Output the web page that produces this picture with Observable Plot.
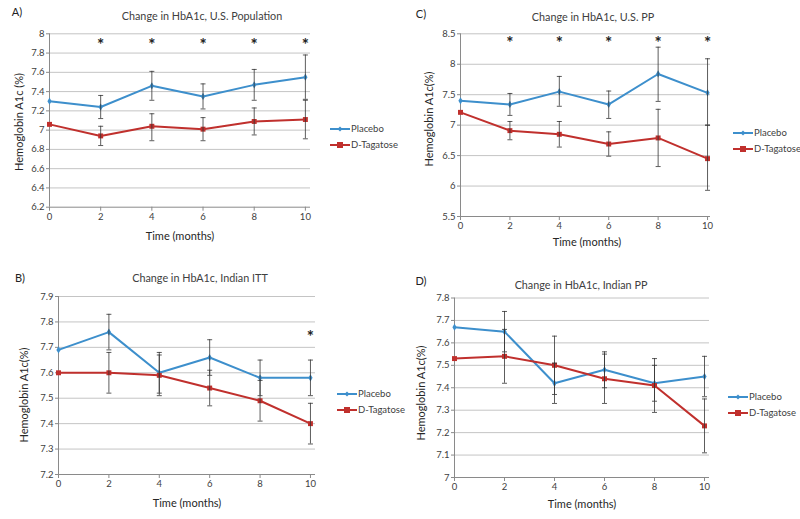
<!DOCTYPE html>
<html><head><meta charset="utf-8">
<script src="https://cdn.jsdelivr.net/npm/d3@7"></script>
<script src="https://cdn.jsdelivr.net/npm/@observablehq/plot@0.6"></script>
<style>
body{margin:0;background:#fff;font-family:Lato,"Open Sans",sans-serif;}
#root{position:relative;width:800px;height:519px;overflow:hidden;background:#fff;}
.panel{position:absolute;width:400px;height:260px;}
.panel svg{position:absolute;left:0;top:0;}
.txt{position:absolute;white-space:nowrap;transform:translate(-50%,-50%);line-height:1;}
.letter{font-size:11px;color:#222;}
.title{font-size:10.8px;color:#404040;}
.ylab{font-size:11px;color:#262626;transform:translate(-50%,-50%) rotate(-90deg);}
.xlab{font-size:11px;color:#262626;}
.leg{position:absolute;font-size:9.5px;color:#404040;line-height:1;white-space:nowrap;width:80px;}
.leg div{display:flex;align-items:center;height:16px;white-space:nowrap;}
.leg svg{position:static;margin-right:1px;flex:none;}
</style></head>
<body><div id="root"></div>
<script>
const months = [0, 2, 4, 6, 8, 10];
const seriesNames = ["Placebo", "D-Tagatose"];
const seriesColors = ["#3d8fcc", "#c0302d"];

// Panel A: U.S. Population
const aTitle = "Change in HbA1c, U.S. Population";
const aYLabel = "Hemoglobin A1c (%)";
const aYTicks = [6.2, 6.4, 6.6, 6.8, 7, 7.2, 7.4, 7.6, 7.8, 8];
const aPlacebo = [7.30, 7.24, 7.46, 7.35, 7.47, 7.55];
const aPlaceboLo = [null, 7.12, 7.31, 7.22, 7.31, 7.32];
const aPlaceboHi = [null, 7.36, 7.61, 7.48, 7.63, 7.78];
const aTag = [7.06, 6.94, 7.04, 7.01, 7.09, 7.11];
const aTagLo = [null, 6.84, 6.89, 6.89, 6.95, 6.91];
const aTagHi = [null, 7.04, 7.17, 7.13, 7.23, 7.31];
const aStars = [2, 4, 6, 8, 10];
const aStarLevel = 7.93;

// Panel C: U.S. PP
const cTitle = "Change in HbA1c, U.S. PP";
const cYLabel = "Hemoglobin A1c(%)";
const cYTicks = [5.5, 6, 6.5, 7, 7.5, 8, 8.5];
const cPlacebo = [7.40, 7.34, 7.55, 7.34, 7.84, 7.53];
const cPlaceboLo = [null, 7.16, 7.31, 7.11, 7.39, 7.00];
const cPlaceboHi = [null, 7.52, 7.80, 7.56, 8.28, 8.09];
const cTag = [7.21, 6.91, 6.85, 6.69, 6.79, 6.45];
const cTagLo = [null, 6.76, 6.64, 6.49, 6.32, 5.93];
const cTagHi = [null, 7.06, 7.06, 6.89, 7.26, 7.00];
const cStars = [2, 4, 6, 8, 10];
const cStarLevel = 8.42;

// Panel B: Indian ITT
const bTitle = "Change in HbA1c, Indian ITT";
const bYLabel = "Hemoglobin A1c(%)";
const bYTicks = [7.2, 7.3, 7.4, 7.5, 7.6, 7.7, 7.8, 7.9];
const bPlacebo = [7.69, 7.76, 7.60, 7.66, 7.58, 7.58];
const bPlaceboLo = [null, 7.69, 7.51, 7.59, 7.51, 7.51];
const bPlaceboHi = [null, 7.83, 7.67, 7.73, 7.65, 7.65];
const bTag = [7.60, 7.60, 7.59, 7.54, 7.49, 7.40];
const bTagLo = [null, 7.52, 7.52, 7.47, 7.41, 7.32];
const bTagHi = [null, 7.68, 7.68, 7.61, 7.57, 7.48];
const bStars = [10];
const bStarLevel = 7.76;

// Panel D: Indian PP
const dTitle = "Change in HbA1c, Indian PP";
const dYLabel = "Hemoglobin A1c(%)";
const dYTicks = [7, 7.1, 7.2, 7.3, 7.4, 7.5, 7.6, 7.7, 7.8];
const dPlacebo = [7.67, 7.65, 7.42, 7.48, 7.42, 7.45];
const dPlaceboLo = [null, 7.56, 7.33, 7.40, 7.34, 7.36];
const dPlaceboHi = [null, 7.74, 7.51, 7.56, 7.50, 7.54];
const dTag = [7.53, 7.54, 7.50, 7.44, 7.41, 7.23];
const dTagLo = [null, 7.42, 7.37, 7.33, 7.29, 7.11];
const dTagHi = [null, 7.66, 7.63, 7.55, 7.53, 7.35];
const dStars = [];
const dStarLevel = null;

const xLabel = "Time (months)";

const panels = [
  {letter:"A)", title:aTitle, yLabel:aYLabel, yTicks:aYTicks, placebo:aPlacebo, placeboLo:aPlaceboLo, placeboHi:aPlaceboHi,
   tag:aTag, tagLo:aTagLo, tagHi:aTagHi, stars:aStars, starLevel:aStarLevel,
   left:0, top:0, ml:49, mr:90, mt:33.3, mb:53.3, xMax:10.2,
   letterPos:[17,11], titlePos:[202,16], yLabPos:[18,122], xLabPos:[180,235], legPos:[330,121]},
  {letter:"C)", title:cTitle, yLabel:cYLabel, yTicks:cYTicks, placebo:cPlacebo, placeboLo:cPlaceboLo, placeboHi:cPlaceboHi,
   tag:cTag, tagLo:cTagLo, tagHi:cTagHi, stars:cStars, starLevel:cStarLevel,
   left:400, top:0, ml:60, mr:90, mt:33.3, mb:44, xMax:10.12,
   letterPos:[21,13], titlePos:[193,17], yLabPos:[28,119], xLabPos:[187,241], legPos:[333,125]},
  {letter:"B)", title:bTitle, yLabel:bYLabel, yTicks:bYTicks, placebo:bPlacebo, placeboLo:bPlaceboLo, placeboHi:bPlaceboHi,
   tag:bTag, tagLo:bTagLo, tagHi:bTagHi, stars:bStars, starLevel:bStarLevel,
   left:0, top:260, ml:58, mr:85, mt:36, mb:46, xMax:10.2,
   letterPos:[20,17], titlePos:[200,18], yLabPos:[23,135], xLabPos:[187,242], legPos:[337,126]},
  {letter:"D)", title:dTitle, yLabel:dYLabel, yTicks:dYTicks, placebo:dPlacebo, placeboLo:dPlaceboLo, placeboHi:dPlaceboHi,
   tag:dTag, tagLo:dTagLo, tagHi:dTagHi, stars:dStars, starLevel:dStarLevel,
   left:400, top:260, ml:54, mr:91, mt:37.5, mb:43, xMax:10.2,
   letterPos:[21,20], titlePos:[181,25], yLabPos:[20,133], xLabPos:[182,243], legPos:[328,129]}
];

const hline = {draw(ctx, size){ const r = Math.sqrt(size / Math.PI); ctx.moveTo(-r, 0); ctx.lineTo(r, 0); }};
const fmt = d => d3.format("~g")(d);

function build(p){
  const rows = [];
  const errs = [];
  months.forEach((m, i) => {
    rows.push({series:"Placebo", month:m, v:p.placebo[i]});
    rows.push({series:"D-Tagatose", month:m, v:p.tag[i]});
    if (p.placeboLo[i] != null) errs.push({month:m, lo:p.placeboLo[i], hi:p.placeboHi[i]});
    if (p.tagLo[i] != null) errs.push({month:m, lo:p.tagLo[i], hi:p.tagHi[i]});
  });
  const yMin = p.yTicks[0], yMax = p.yTicks[p.yTicks.length - 1];
  const starRows = p.stars.map(m => ({month:m, y:p.starLevel}));
  return Plot.plot({
    width:400, height:260,
    marginLeft:p.ml, marginRight:p.mr, marginTop:p.mt, marginBottom:p.mb,
    style:{fontFamily:"Lato, 'Open Sans', sans-serif", fontSize:"9.5px", color:"#404040", background:"transparent"},
    x:{domain:[0, p.xMax], label:null},
    y:{domain:[yMin, yMax], label:null},
    color:{domain:seriesNames, range:seriesColors},
    marks:[
      Plot.ruleY(p.yTicks.slice(1), {stroke:"#c4c4c4", strokeWidth:1}),
      Plot.ruleY([yMin], {stroke:"#8a8a8a", strokeWidth:1}),
      Plot.ruleX([0], {stroke:"#8a8a8a", strokeWidth:1}),
      Plot.axisY({ticks:p.yTicks, tickFormat:fmt, tickSize:3, tickPadding:2, stroke:"#8a8a8a", label:null}),
      Plot.axisX({ticks:months, tickFormat:fmt, tickSize:4, tickPadding:2, stroke:"#8a8a8a", label:null}),
      Plot.line(rows, {x:"month", y:"v", z:"series", stroke:"series", strokeWidth:2}),
      Plot.dot(rows.filter(d => d.series === "Placebo"), {x:"month", y:"v", symbol:"diamond", r:2.2, fill:seriesColors[0]}),
      Plot.dot(rows.filter(d => d.series === "D-Tagatose"), {x:"month", y:"v", symbol:"square", r:2.8, fill:seriesColors[1]}),
      Plot.ruleX(errs, {x:"month", y1:"lo", y2:"hi", stroke:"#333", strokeWidth:0.8}),
      Plot.dot(errs, {x:"month", y:"lo", symbol:hline, r:2.5, stroke:"#333", strokeWidth:0.8}),
      Plot.dot(errs, {x:"month", y:"hi", symbol:hline, r:2.5, stroke:"#333", strokeWidth:0.8}),
      Plot.text(starRows, {x:"month", y:"y", text:() => "*", fontSize:17, fontWeight:"bold", fill:"#222", dy:5})
    ]
  });
}

function legendItem(name, color, symbol){
  const w = 20;
  const mark = symbol === "square"
    ? `<rect x="${w/2-3}" y="3" width="6" height="6" fill="${color}"/>`
    : `<path d="M${w/2},3.5L${w/2+2.5},6L${w/2},8.5L${w/2-2.5},6Z" fill="${color}"/>`;
  return `<div><svg width="${w}" height="12"><line x1="0" x2="${w}" y1="6" y2="6" stroke="${color}" stroke-width="2"/>${mark}</svg><span>${name}</span></div>`;
}

const root = document.getElementById("root");
panels.forEach(p => {
  const div = document.createElement("div");
  div.className = "panel";
  div.style.left = p.left + "px";
  div.style.top = p.top + "px";
  div.appendChild(build(p));
  const add = (cls, text, pos) => {
    const t = document.createElement("div");
    t.className = "txt " + cls;
    t.textContent = text;
    t.style.left = pos[0] + "px";
    t.style.top = pos[1] + "px";
    div.appendChild(t);
  };
  add("letter", p.letter, p.letterPos);
  add("title", p.title, p.titlePos);
  add("ylab", p.yLabel, p.yLabPos);
  add("xlab", xLabel, p.xLabPos);
  const leg = document.createElement("div");
  leg.className = "leg";
  leg.style.left = p.legPos[0] + "px";
  leg.style.top = p.legPos[1] + "px";
  leg.innerHTML = legendItem("Placebo", seriesColors[0], "diamond") + legendItem("D-Tagatose", seriesColors[1], "square");
  div.appendChild(leg);
  root.appendChild(div);
});
</script>
</body></html>
